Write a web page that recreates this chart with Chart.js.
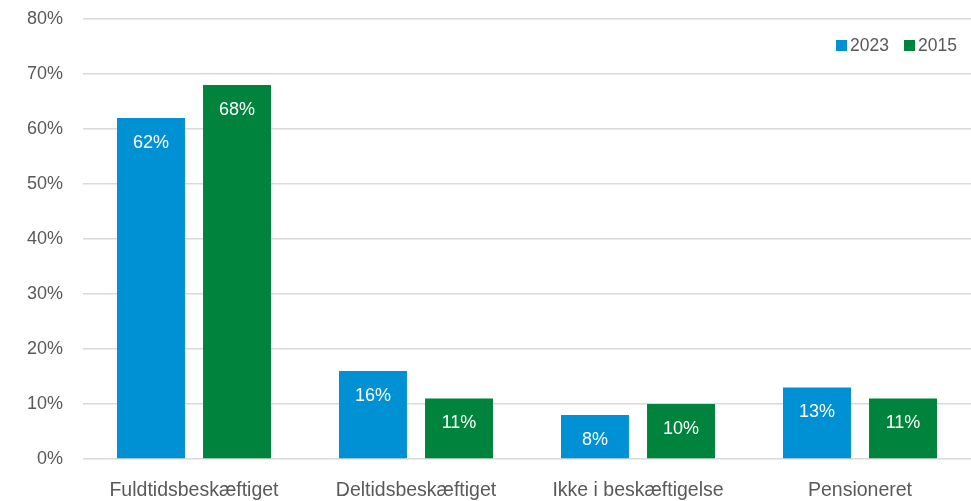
<!DOCTYPE html>
<html><head><meta charset="utf-8">
<script src="https://cdn.jsdelivr.net/npm/chart.js@4/dist/chart.umd.min.js"></script>
<style>html,body{margin:0;padding:0;background:#fff}#w{width:971px;height:501px}</style>
</head><body><div id="w"><canvas id="c"></canvas></div>
<script>
const categories = ["Fuldtidsbeskæftiget","Deltidsbeskæftiget","Ikke i beskæftigelse","Pensioneret"];
const values2023 = [62,16,8,13];
const values2015 = [68,11,10,11];
const seriesNames = ["2023","2015"];
const yTicks = [0,10,20,30,40,50,60,70,80];
const colors = ["#0091d5","#00843d"];
const FONT = '"Liberation Sans", Arial, sans-serif';

const labelPlugin = {
  id:'lbl',
  afterDatasetsDraw(chart){
    const ctx = chart.ctx;
    ctx.save();
    ctx.font = '18px ' + FONT;
    ctx.fillStyle = '#fff';
    ctx.textAlign = 'center';
    ctx.textBaseline = 'middle';
    chart.data.datasets.forEach((ds,i)=>{
      chart.getDatasetMeta(i).data.forEach((bar,j)=>{
        ctx.fillText(ds.data[j]+'%', bar.x, bar.y+25);
      });
    });
    // legend
    const items = [{x:836},{x:904}];
    ctx.font = '17.5px ' + FONT;
    ctx.textAlign='left';
    items.forEach((it,i)=>{
      ctx.fillStyle = colors[i];
      ctx.fillRect(it.x, 40, 11, 11);
      ctx.fillStyle = '#595959';
      ctx.fillText(seriesNames[i], it.x+14, 46);
    });
    ctx.restore();
  }
};

new Chart(document.getElementById('c'),{
  type:'bar',
  data:{labels:categories,datasets:[
    {label:seriesNames[0],data:values2023,backgroundColor:colors[0],categoryPercentage:0.775,barPercentage:0.79},
    {label:seriesNames[1],data:values2015,backgroundColor:colors[1],categoryPercentage:0.775,barPercentage:0.79}
  ]},
  options:{
    responsive:true,maintainAspectRatio:false,animation:false,
    layout:{padding:{top:19,right:0,bottom:0,left:0}},
    plugins:{legend:{display:false},tooltip:{enabled:false}},
    scales:{
      x:{grid:{display:false},border:{display:false},
         afterFit(s){s.height=42;s.paddingLeft=0;s.paddingRight=0;},
         ticks:{color:'#595959',font:{family:FONT,size:19.5},padding:12,maxRotation:0}},
      y:{min:0,max:80,afterFit(s){s.width=83;s.paddingTop=0;s.paddingBottom=0;},
         afterBuildTicks(s){s.ticks=yTicks.map(v=>({value:v}));},
         grid:{color:'#d9d9d9',lineWidth:1.5,drawTicks:false},border:{display:false},
         ticks:{color:'#595959',font:{family:FONT,size:18},padding:20,callback:v=>v+'%'}}
    }
  },
  plugins:[labelPlugin]
});
</script></body></html>
